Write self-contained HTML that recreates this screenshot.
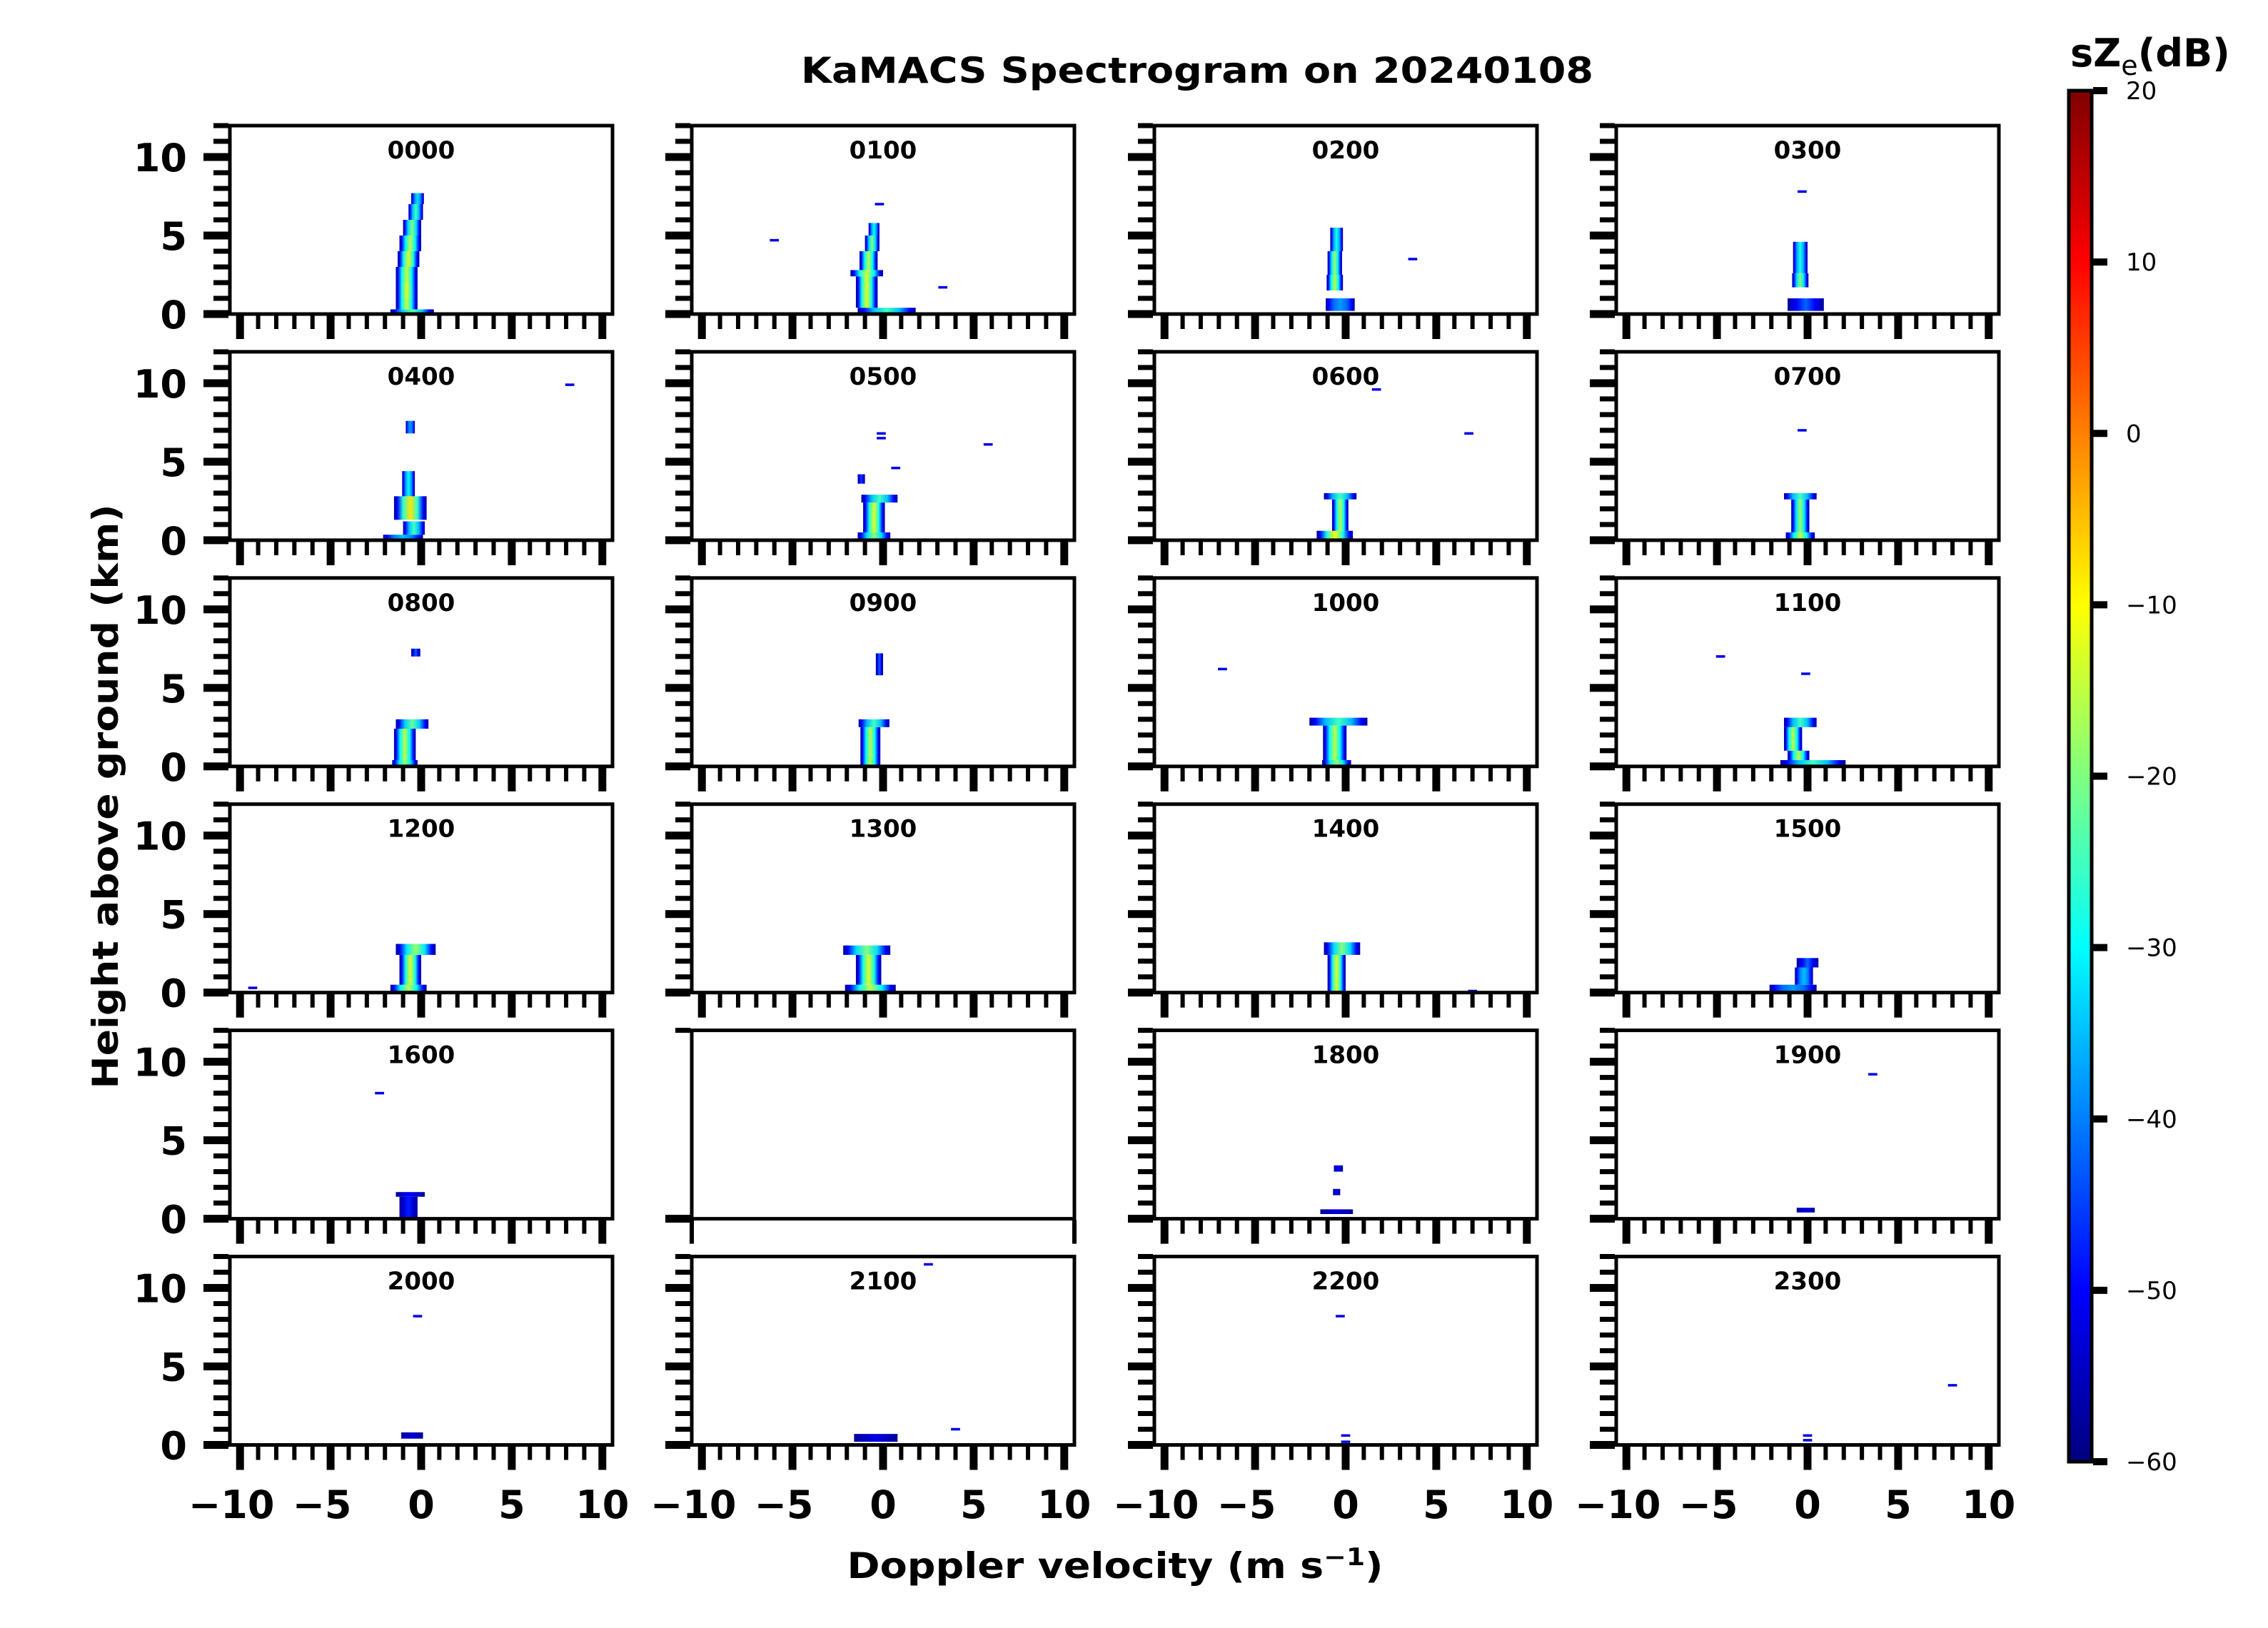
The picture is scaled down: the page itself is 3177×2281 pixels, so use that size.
<!DOCTYPE html>
<html><head><meta charset="utf-8"><style>
html,body{margin:0;padding:0;background:#fff;}
svg{display:block;font-family:"DejaVu Sans","Liberation Sans",sans-serif;}
</style></head>
<body>
<svg id="fig" xmlns="http://www.w3.org/2000/svg" width="3177" height="2281" viewBox="0 0 3177 2281">
<rect width="3177" height="2281" fill="#fff"/>
<text x="1677" y="116" text-anchor="middle" font-weight="bold" font-size="50" textLength="1110" lengthAdjust="spacingAndGlyphs">KaMACS Spectrogram on 20240108</text>
<text transform="translate(165,1116) rotate(-90)" text-anchor="middle" font-weight="bold" font-size="50" textLength="819" lengthAdjust="spacingAndGlyphs">Height above ground (km)</text>
<text x="1562" y="2211" text-anchor="middle" font-weight="bold" font-size="50" textLength="751" lengthAdjust="spacingAndGlyphs">Doppler velocity (m s<tspan dy="-18" font-size="34">−1</tspan><tspan dy="18">)</tspan></text>
<text x="2900" y="93" font-weight="bold" font-size="54">sZ<tspan dy="12" font-size="38" font-weight="normal">e</tspan><tspan dy="-12">(dB)</tspan></text>
<g id="panels"></g>
<g id="cbar"></g>
</svg>
<script>
// ---- data ----
const panelLabels = ["0000","0100","0200","0300","0400","0500","0600","0700","0800","0900","1000","1100","1200","1300","1400","1500","1600","","1800","1900","2000","2100","2200","2300"];
const xMajorTicks = [-10,-5,0,5,10];
const yMajorTicks = [0,5,10];
const cbarTicks = [20,10,0,-10,-20,-30,-40,-50,-60];
// strips per panel: [hBottom km, hTop km, velocity centre m/s, half width m/s, peak dB]
const strips = [
 [[0,0.3,-0.5,1.2,-22],[0.3,1,-0.8,0.6,-14],[1,2,-0.8,0.6,-12],[2,3,-0.8,0.6,-14],[3,4,-0.7,0.6,-12],[4,5,-0.6,0.6,-15],[5,6,-0.5,0.5,-20],[6,7,-0.3,0.4,-25],[7,7.7,-0.2,0.35,-32]],
 [[0,0.4,0.2,1.6,-25],[0.4,1.5,-0.9,0.6,-12],[1.5,2.4,-0.9,0.6,-12],[2.4,2.8,-0.9,0.9,-14],[2.8,4,-0.8,0.5,-15],[4,5,-0.6,0.4,-20],[5,5.8,-0.5,0.3,-30]],
 [[0.2,1.0,-0.3,0.8,-38],[1.5,2.5,-0.6,0.45,-15],[2.5,4,-0.6,0.4,-18],[4,5.5,-0.5,0.35,-28]],
 [[0.2,1.0,-0.1,1.0,-42],[1.7,2.6,-0.4,0.45,-20],[2.6,4.6,-0.4,0.4,-28]],
 [[0,0.35,-1.0,1.1,-35],[0.35,1.2,-0.4,0.6,-25],[1.3,2.8,-0.6,0.9,-8],[2.8,4.4,-0.7,0.35,-30],[6.8,7.6,-0.6,0.25,-38]],
 [[0,0.5,-0.5,0.9,-20],[0.5,2.4,-0.5,0.6,-12],[2.4,2.9,-0.2,1.0,-25],[3.6,4.2,-1.2,0.2,-45]],
 [[0,0.6,-0.6,1.0,-10],[0.6,2.6,-0.3,0.45,-15],[2.6,3.0,-0.3,0.9,-25]],
 [[0,0.5,-0.4,0.8,-15],[0.5,2.6,-0.4,0.5,-18],[2.6,3.0,-0.4,0.9,-25]],
 [[0,0.4,-0.9,0.7,-18],[0.4,2.4,-0.9,0.6,-15],[2.4,3.0,-0.5,0.9,-22],[7.0,7.5,-0.3,0.25,-42]],
 [[0,2.5,-0.7,0.55,-15],[2.5,3.0,-0.5,0.85,-25],[5.8,7.2,-0.2,0.2,-42]],
 [[0,0.4,-0.5,0.8,-18],[0.4,2.6,-0.6,0.65,-15],[2.6,3.1,-0.4,1.6,-25]],
 [[0,0.4,0.3,1.8,-25],[0.4,1.0,-0.5,0.6,-15],[1.0,2.5,-0.8,0.5,-15],[2.5,3.1,-0.4,0.9,-25]],
 [[0,0.5,-0.7,1.0,-15],[0.5,2.4,-0.6,0.6,-12],[2.4,3.1,-0.3,1.1,-18]],
 [[0,0.5,-0.7,1.4,-15],[0.5,2.4,-0.8,0.7,-12],[2.4,3.0,-0.9,1.3,-20]],
 [[0,2.4,-0.5,0.5,-12],[2.4,3.2,-0.2,1.0,-20]],
 [[0,0.5,-0.8,1.3,-38],[0.5,1.6,-0.2,0.5,-35],[1.6,2.2,0,0.6,-42]],
 [[0,1.4,-0.7,0.5,-48],[1.4,1.7,-0.6,0.8,-50]],
 [],
 [[0.3,0.6,-0.5,0.9,-52],[1.5,1.9,-0.5,0.2,-52],[3.0,3.4,-0.4,0.25,-50]],
 [[0.4,0.7,-0.1,0.5,-52]],
 [[0.4,0.8,-0.5,0.6,-53]],
 [[0.2,0.7,-0.4,1.2,-52]],
 [],
 []
];
// isolated speckles per panel: [height km, velocity m/s]
const speckles = [
 [],[[7.0,-0.2],[4.7,-6],[1.7,3.3]],[[3.5,3.7]],[[7.8,-0.3]],[[9.9,8.2]],
 [[6.8,-0.1],[6.5,-0.1],[4.6,0.7],[6.1,5.8]],[[9.6,1.7],[6.8,6.8]],[[7.0,-0.3]],[],[],
 [[6.2,-6.8]],[[5.9,-0.1],[7.0,-4.8]],[[0.3,-9.3]],[],[[0.1,7.0]],[],[[8.0,-2.3]],[],[],
 [[9.2,3.6]],[[8.2,-0.2]],[[1.0,4.0],[11.5,2.5]],[[8.2,-0.3],[0.6,0],[0.2,0]],[[3.8,8.0],[0.6,0],[0.3,0]]
];
// ---- layout ----
const NS="http://www.w3.org/2000/svg";
const colLeft=[322,969,1617,2264], W=536, H=264, row0=176, rowPitch=316.9;
const XMIN=-10.56, XMAX=10.56, YMAX=12, VMIN=-60, VMAX=20;
function mk(tag,attrs,parent){const e=document.createElementNS(NS,tag);for(const k in attrs)e.setAttribute(k,attrs[k]);parent.appendChild(e);return e;}
function jet(v){let t=(v-VMIN)/(VMAX-VMIN);t=Math.max(0,Math.min(1,t));const c=x=>Math.round(255*Math.max(0,Math.min(1,x)));
 return `rgb(${c(1.5-Math.abs(4*t-3))},${c(1.5-Math.abs(4*t-2))},${c(1.5-Math.abs(4*t-1))})`;}
const svg=document.getElementById('fig');
const defs=mk('defs',{},svg);
const panels=document.getElementById('panels');
let gid=0;
function gradFor(peak){
 const id='g'+(gid++);
 const g=mk('linearGradient',{id:id,x1:0,x2:1,y1:0,y2:0},defs);
 let st;
 if(peak<=-40){
  st=[[0,-58],[0.25,(peak-58)/2],[0.5,peak],[0.75,(peak-58)/2],[1,-58]];
 } else {
  const mid=(peak-45)/2;
  st=[[0,-58],[0.1,-50],[0.28,mid],[0.5,peak],[0.72,mid],[0.9,-50],[1,-58]];
 }
 st.forEach(s=>mk('stop',{offset:s[0],'stop-color':jet(s[1])},g));
 return id;
}
for(let p=0;p<24;p++){
 const r=Math.floor(p/4), c=p%4;
 const L=colLeft[c], T=row0+r*rowPitch, B=T+H;
 const xs=v=>L+(v-XMIN)/(XMAX-XMIN)*W;
 const ys=h=>B-h/YMAX*H;
 const g=mk('g',{},panels);
 
 
 const empty = p===17;
 const dg=mk('g',{},g);
 
 
 strips[p].forEach(s=>{
  const x0=xs(s[2]-s[3]), x1=xs(s[2]+s[3]);
  const rc=mk('rect',{x:x0,y:ys(s[1]),width:x1-x0,height:ys(s[0])-ys(s[1]),fill:`url(#${gradFor(s[4])})`},dg);
  
  
 });
 speckles[p].forEach(s=>{
  const x0=xs(s[1]-0.25), x1=xs(s[1]+0.25);
  const rc=mk('rect',{x:x0,y:ys(s[0]+0.08),width:x1-x0,height:ys(s[0]-0.08)-ys(s[0]+0.08),fill:jet(-52)},dg);
  
  
 });
 const tg=mk('g',{fill:'#000'},g);
 
 
 if(!empty){
  for(let v=-10;v<=10;v++){
   const maj=xMajorTicks.includes(v), w=maj?11:6, len=maj?33:19;
   mk('rect',{x:xs(v)-w/2,y:B+2,width:w,height:len},tg);
  }
  for(let h=0;h<=12;h++){
   const maj=yMajorTicks.includes(h), w=maj?11:7, len=maj?35:21;
   mk('rect',{x:L-2-len,y:ys(h)-w/2,width:len,height:w},tg);
  }
 } else {
  mk('rect',{x:L-2-35,y:B-5.5,width:35,height:11},tg);
  mk('rect',{x:L-2-21,y:T-3.5,width:21,height:7},tg);
  mk('rect',{x:L-3,y:B+2,width:6,height:33},tg);
  mk('rect',{x:L+W-3,y:B+2,width:6,height:33},tg);
 }
 const fr=mk('rect',{x:L,y:T,width:W,height:H,fill:'none',stroke:'#000','stroke-width':5},g);
 
 
 if(panelLabels[p]){
  const t=mk('text',{x:L+W/2,y:T+46,'text-anchor':'middle','font-weight':'bold','font-size':34},g);
  t.textContent=panelLabels[p];
  
  
 }
 if(c===0){
  yMajorTicks.forEach(h=>{
   const t=mk('text',{x:262,y:ys(h)+20,'text-anchor':'end','font-weight':'bold','font-size':54},g);
   t.textContent=String(h);
   
   
  });
 }
 if(r===5){
  xMajorTicks.forEach(v=>{
   const t=mk('text',{x:xs(v)-(v<0?12:0),y:2127,'text-anchor':'middle','font-weight':'bold','font-size':54},g);
   t.textContent=String(v).replace('-','−');
   
   
  });
 }
}
// ---- colorbar ----
const cb=document.getElementById('cbar');


const CT=127, CB=2048, CL=2898, CR=2930;
const cg=mk('linearGradient',{id:'cbg',x1:0,x2:0,y1:1,y2:0},defs);
for(let i=0;i<=16;i++){mk('stop',{offset:i/16,'stop-color':jet(VMIN+(VMAX-VMIN)*i/16)},cg);}
const cr=mk('rect',{x:CL,y:CT,width:CR-CL,height:CB-CT,fill:'url(#cbg)',stroke:'#000','stroke-width':5},cb);


const cy=v=>CB-(v-VMIN)/(VMAX-VMIN)*(CB-CT);
cbarTicks.forEach(v=>{
 mk('rect',{x:CR+2,y:cy(v)-5,width:20,height:10,fill:'#000'},cb);
 const t=mk('text',{x:2978,y:cy(v)+12,'font-size':34},cb);
 t.textContent=String(v).replace('-','−');
 
 
});
</script>
</body></html>
